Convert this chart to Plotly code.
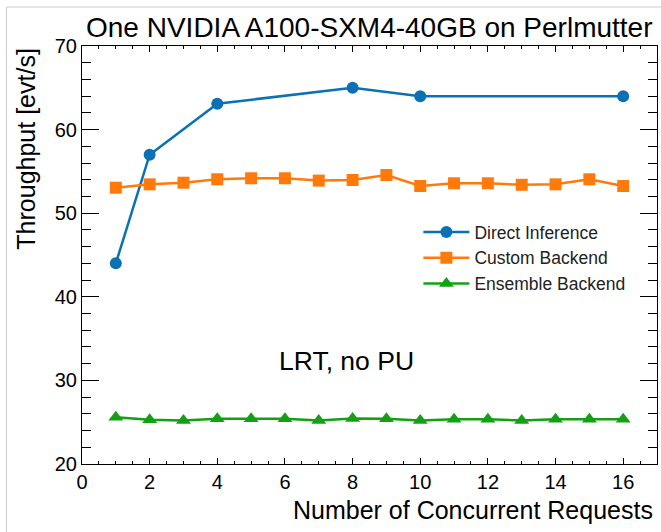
import plotly.graph_objects as go

requests_direct = [1, 2, 4, 8, 10, 16]
direct_inference = [44.0, 57.0, 63.1, 65.0, 64.0, 64.0]

requests_all = list(range(1, 17))
custom_backend = [53.05, 53.45, 53.65, 54.06, 54.18, 54.18, 53.9, 53.97,
                  54.57, 53.25, 53.58, 53.58, 53.4, 53.45, 54.06, 53.25]
ensemble_backend = [25.6, 25.3, 25.2, 25.4, 25.4, 25.4, 25.2, 25.45,
                    25.4, 25.2, 25.35, 25.35, 25.2, 25.35, 25.35, 25.35]

x_ticks = [0, 2, 4, 6, 8, 10, 12, 14, 16]
y_ticks = [20, 30, 40, 50, 60, 70]

FONT = "Liberation Sans, Arial, Helvetica, sans-serif"
BLUE = "#0a72b4"
ORANGE = "#ff7a0a"
GREEN = "#14a014"

fig = go.Figure()
fig.add_trace(go.Scatter(x=requests_direct, y=direct_inference, mode="lines+markers",
                         name="Direct Inference",
                         line=dict(color=BLUE, width=2.5),
                         marker=dict(symbol="circle", size=12, color=BLUE)))
fig.add_trace(go.Scatter(x=requests_all, y=custom_backend, mode="lines+markers",
                         name="Custom Backend",
                         line=dict(color=ORANGE, width=2.5),
                         marker=dict(symbol="square", size=12, color=ORANGE)))
fig.add_trace(go.Scatter(x=requests_all, y=ensemble_backend, mode="lines+markers",
                         name="Ensemble Backend",
                         line=dict(color=GREEN, width=2.5),
                         marker=dict(symbol="triangle-up", size=13, color=GREEN)))

axis_common = dict(showgrid=False, zeroline=False, showline=True, linecolor="black",
                   linewidth=1, mirror="allticks", ticks="inside", tickcolor="black",
                   tickfont=dict(family=FONT, size=20, color="black"))

fig.update_xaxes(range=[0, 17], tickvals=x_ticks, ticklen=6, tickwidth=1,
                 minor=dict(dtick=0.5, ticks="inside", ticklen=3, tickcolor="black"),
                 **axis_common)
fig.update_yaxes(range=[20, 70], tickvals=y_ticks, ticklen=17, tickwidth=1,
                 minor=dict(dtick=2, ticks="inside", ticklen=9, tickcolor="black"),
                 **axis_common)

fig.update_layout(
    width=661, height=532,
    margin=dict(l=82, r=4, t=46, b=68),
    paper_bgcolor="white", plot_bgcolor="white",
    font=dict(family=FONT, color="black"),
    showlegend=True,
    legend=dict(x=0.585, y=0.598, xanchor="left", yanchor="top",
                bgcolor="rgba(0,0,0,0)", borderwidth=0,
                font=dict(family=FONT, size=17.5, color="#222222"),
                itemwidth=46, tracegroupgap=0),
    annotations=[
        dict(text="One NVIDIA A100-SXM4-40GB on Perlmutter", xref="paper", yref="paper",
             x=0.4987, y=1.045, xanchor="center", yanchor="middle", showarrow=False,
             font=dict(family=FONT, size=28, color="black")),
        dict(text="Number of Concurrent Requests", xref="paper", yref="paper",
             x=0.997, y=-0.11, xanchor="right", yanchor="middle", showarrow=False,
             font=dict(family=FONT, size=25, color="black")),
        dict(text="Throughput [evt/s]", xref="paper", yref="paper",
             x=-0.098, y=1.0, xanchor="center", yanchor="top", textangle=-90,
             showarrow=False, font=dict(family=FONT, size=25, color="black")),
        dict(text="LRT, no PU", xref="x", yref="y", x=7.81, y=32.3,
             xanchor="center", yanchor="middle", showarrow=False,
             font=dict(family=FONT, size=26.5, color="black")),
    ],
    shapes=[
        dict(type="rect", xref="paper", yref="paper", x0=-0.1314, y0=-0.4,
             x1=1.3, y1=1.0933, line=dict(color="#cccccc", width=1), layer="below"),
    ],
)

fig.write_html("out.html", config={"displayModeBar": False},
               post_script="document.body.style.margin='0';document.body.style.overflow='hidden';")
